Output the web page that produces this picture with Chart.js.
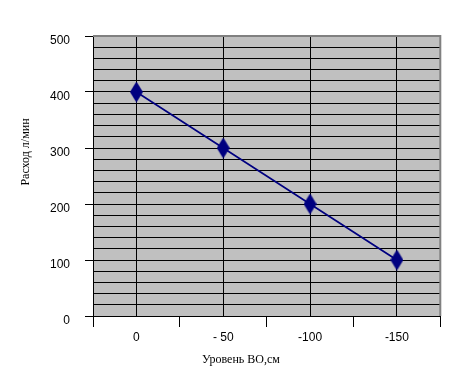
<!DOCTYPE html>
<html>
<head>
<meta charset="utf-8">
<script src="https://cdn.jsdelivr.net/npm/chart.js@4"></script>
<style>
  body { margin: 0; background: #fff; }
  #wrap { width: 452px; height: 374px; }
</style>
</head>
<body>
<div id="wrap"><canvas id="flowChart"></canvas></div>
<script>
// data
let levels = ['0', '- 50', '-100', '-150'];   // x categories
let flow = [400, 300, 200, 100];               // Расход л/мин
let yTicks = [0, 100, 200, 300, 400, 500];
let xTitle = 'Уровень ВО,см';
let yTitle = 'Расход л/мин';

const navy = '#000080';

// tall diamond marker
let dia = document.createElement('canvas');
dia.width = 13; dia.height = 21;
let dc = dia.getContext('2d');
dc.fillStyle = navy;
dc.beginPath();
dc.moveTo(6.5, 0); dc.lineTo(13, 10.5); dc.lineTo(6.5, 21); dc.lineTo(0, 10.5);
dc.closePath();
dc.fill();

// gray plot background + right border + axis titles
const plotDecor = {
    id: 'plotDecor',
    beforeDraw(chart) {
        let a = chart.chartArea, c = chart.ctx;
        c.save();
        c.fillStyle = '#c0c0c0';
        c.fillRect(a.left, a.top, a.right - a.left, a.bottom - a.top);
        c.restore();
    },
    beforeDatasetsDraw(chart) {
        let a = chart.chartArea, c = chart.ctx;
        c.save();
        c.strokeStyle = '#808080';
        c.lineWidth = 2;
        c.beginPath();
        c.moveTo(a.left, a.top); c.lineTo(a.right, a.top); c.lineTo(a.right, a.bottom);
        c.stroke();
        c.restore();
    },
    afterDraw(chart) {
        let c = chart.ctx;
        c.save();
        c.fillStyle = '#000';
        c.font = '12px "Liberation Serif"';
        c.textAlign = 'center';
        c.textBaseline = 'middle';
        c.fillText(xTitle, 241, 360);
        c.translate(26, 152);
        c.rotate(-Math.PI / 2);
        c.fillText(yTitle, 0, 0);
        c.restore();
    }
};

let chart = new Chart(document.getElementById('flowChart'), {
    type: 'line',
    data: {
        datasets: [{
            data: flow.map((v, i) => ({ x: i, y: v })),
            borderColor: navy,
            borderWidth: 1.7,
            tension: 0,
            pointStyle: dia,
            pointRadius: 10,
            pointHoverRadius: 10
        }]
    },
    options: {
        responsive: true,
        maintainAspectRatio: false,
        animation: false,
        layout: { padding: { top: 36, right: 9, left: 0, bottom: 0 } },
        plugins: { legend: { display: false }, tooltip: { enabled: false } },
        scales: {
            x: {
                type: 'linear',
                min: -0.5,
                max: levels.length - 0.5,
                afterFit: s => { s.height = 58; },
                border: { color: '#000', width: 1 },
                grid: {
                    color: ctx => Number.isInteger(ctx.tick.value) ? '#000' : 'rgba(0,0,0,0)',
                    tickColor: ctx => Number.isInteger(ctx.tick.value) ? 'rgba(0,0,0,0)' : '#000',
                    tickLength: 11,
                    lineWidth: 1
                },
                ticks: {
                    stepSize: 0.5,
                    autoSkip: false,
                    maxRotation: 0,
                    padding: 3,
                    color: '#000',
                    font: { family: '"Liberation Sans"', size: 12 },
                    callback: v => Number.isInteger(v) ? levels[v] : ''
                }
            },
            y: {
                min: yTicks[0],
                max: yTicks[yTicks.length - 1],
                afterFit: s => { s.width = 93; },
                border: { color: '#000', width: 1 },
                grid: {
                    color: ctx => ctx.tick.value === 500 ? '#808080' : '#000',
                    tickColor: ctx => ctx.tick.value % 100 === 0 ? '#000' : 'rgba(0,0,0,0)',
                    tickLength: 8,
                    lineWidth: 1
                },
                ticks: {
                    stepSize: 20,
                    autoSkip: false,
                    padding: 15,
                    labelOffset: 5,
                    color: '#000',
                    font: { family: '"Liberation Sans"', size: 12 },
                    callback: v => yTicks.includes(v) ? v : ''
                }
            }
        }
    },
    plugins: [plotDecor]
});
</script>
</body>
</html>
